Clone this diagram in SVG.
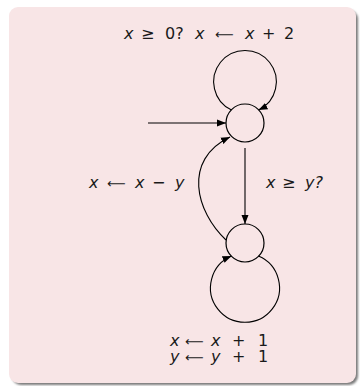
<svg xmlns="http://www.w3.org/2000/svg" width="361" height="386" viewBox="0 0 361 386">
<defs>
<filter id="sh" x="-5%" y="-5%" width="110%" height="110%"><feGaussianBlur stdDeviation="1.2"/></filter>
<marker id="ah" markerUnits="userSpaceOnUse" markerWidth="10" markerHeight="8" refX="9" refY="4" orient="auto"><path d="M0,0.5 L9,4 L0,7.5 Z" fill="#000"/></marker>
<style>
.t{font-family:"DejaVu Sans","Liberation Sans",sans-serif;font-size:16px;fill:#1a1a1a}
.i{font-style:italic}
.a{font-size:13px}
.n{fill:none;stroke:#000;stroke-width:1.2}
.e{fill:none;stroke:#000;stroke-width:1.1;marker-end:url(#ah)}
</style>
</defs>
<rect x="12" y="10" width="346" height="375" rx="9" fill="#7a7a7a" filter="url(#sh)"/>
<rect x="9" y="7" width="347" height="376" rx="9" fill="#f8e5e6"/>
<g id="q0"><circle class="n" cx="245" cy="123" r="19"/></g>
<g id="q1"><circle class="n" cx="245" cy="243" r="19"/></g>
<g id="edges">
<path class="e" d="M148,123 L226,123"/>
<path class="e" d="M231.5,110 A31.3,31.3 0 1 1 258.5,110"/>
<path class="e" d="M245,148 L245,224"/>
<path class="e" d="M226,240 C196,212 182,160 230,137"/>
<path class="e" d="M258.5,256 A34.5,34.5 0 1 1 231.5,256"/>
</g>
<g id="labels">
<text class="t" y="39"><tspan class="i" x="124">x</tspan><tspan x="141">≥</tspan><tspan x="165">0?</tspan><tspan class="i" x="195">x</tspan><tspan class="a" x="215">⟵</tspan><tspan class="i" x="245">x</tspan><tspan x="262">+</tspan><tspan x="284">2</tspan></text>
<text class="t" y="188"><tspan class="i" x="89">x</tspan><tspan class="a" x="107">⟵</tspan><tspan class="i" x="135">x</tspan><tspan x="152">−</tspan><tspan class="i" x="175">y</tspan></text>
<text class="t" y="188"><tspan class="i" x="266">x</tspan><tspan x="282">≥</tspan><tspan class="i" x="305">y?</tspan></text>
<text class="t"><tspan class="i" x="170" y="346">x</tspan><tspan class="a" x="185" y="346">⟵</tspan><tspan class="i" x="211" y="346">x</tspan><tspan x="232" y="346">+</tspan><tspan x="258" y="346">1</tspan><tspan class="i" x="170" y="362">y</tspan><tspan class="a" x="185" y="362">⟵</tspan><tspan class="i" x="211" y="362">y</tspan><tspan x="232" y="362">+</tspan><tspan x="258" y="362">1</tspan></text>
</g>
</svg>
